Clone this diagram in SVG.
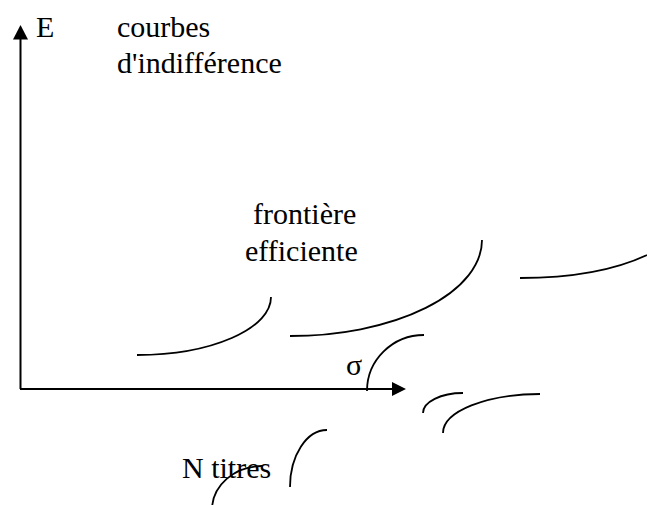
<svg xmlns="http://www.w3.org/2000/svg" width="647" height="505" viewBox="0 0 647 505">
<style>
  .t { font-family: "Liberation Serif", "Times New Roman", serif; font-size: 30px; fill: #000; }
  .axis { stroke: #000; stroke-width: 2; fill: none; }
  .curve { stroke: #000; stroke-width: 1.8; fill: none; }
  .head { fill: #000; }
</style>
<rect width="647" height="505" fill="#fff"/>
<g id="axes">
  <line class="axis" x1="20.5" y1="389" x2="20.5" y2="36"/>
  <polygon class="head" points="20.5,25 13,39.5 28,39.5"/>
  <line class="axis" x1="20" y1="389" x2="394" y2="389"/>
  <polygon class="head" points="406,389 392,382 392,396"/>
</g>
<g id="labels">
  <text class="t" x="36" y="37">E</text>
  <text class="t" x="117" y="37">courbes</text>
  <text class="t" x="117" y="73">d'indifférence</text>
  <text class="t" x="253" y="224">frontière</text>
  <text class="t" x="245" y="261">efficiente</text>
  <text class="t" x="346" y="375">σ</text>
  <text class="t" x="182" y="478">N titres</text>
</g>
<g id="curves">
  <path class="curve" d="M137,355 A134,58 0 0 0 271,297"/>
  <path class="curve" d="M290,336 A192,96 0 0 0 482,240"/>
  <path class="curve" d="M520,278 C570,278 615,270 647,255"/>
  <path class="curve" d="M424,335 A57,56 0 0 0 367,391"/>
  <path class="curve" d="M463,393 A40,20 0 0 0 423,413"/>
  <path class="curve" d="M540,394 A97,39 0 0 0 443,433"/>
  <path class="curve" d="M327,430 A37,57 0 0 0 290,487"/>
  <path class="curve" d="M262,466 A50,44 0 0 0 212,510"/>
</g>
</svg>
